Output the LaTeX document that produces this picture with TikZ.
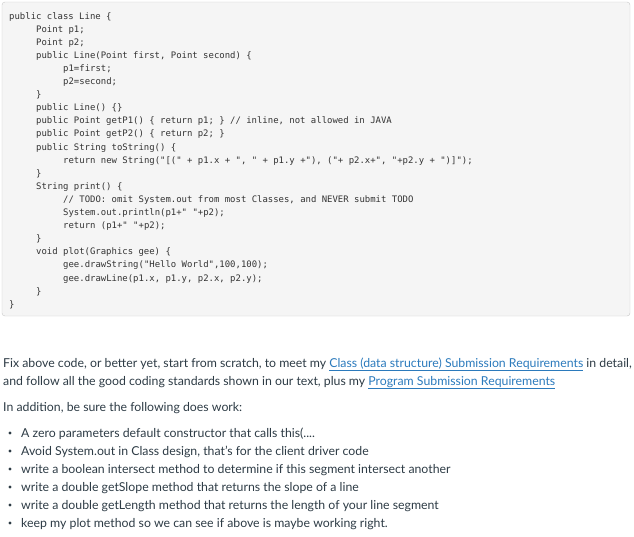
\documentclass[tikz,border=0pt]{standalone}
\usepackage{fontspec}
\setmainfont{Lato}
\setmonofont{DejaVu Sans Mono}
\definecolor{boxbg}{HTML}{F5F5F5}
\definecolor{boxline}{HTML}{C8C8C8}
\definecolor{codec}{HTML}{333333}
\definecolor{txt}{HTML}{2D3B45}
\definecolor{lnk}{HTML}{2B7ABC}
\newcommand{\lk}[1]{\textcolor{lnk}{\underline{#1}}}
\begin{document}
\begin{tikzpicture}[x=1pt,y=-1pt,
  code/.style={anchor=base west,inner sep=0pt,font=\ttfamily\fontsize{8.95}{10}\selectfont,text=codec},
  para/.style={anchor=base west,inner sep=0pt,font=\fontsize{12.3}{14}\selectfont,text=txt},
  bul/.style={circle,fill=txt,inner sep=0pt,minimum size=3.2pt}]
\useasboundingbox (0,0) rectangle (634,536);
\draw[boxline,fill=boxbg,rounded corners=3pt] (2,2) rectangle (630,316);
\foreach \i/\x/\t in {
 1/9/{public class Line \{},
 2/36/{Point p1;},
 3/36/{Point p2;},
 4/36/{public Line(Point first, Point second) \{},
 5/63/{p1=first;},
 6/63/{p2=second;},
 7/36/{\}},
 8/36/{public Line() \{\}},
 9/36/{public Point getP1() \{ return p1; \} // inline, not allowed in JAVA},
 10/36/{public Point getP2() \{ return p2; \}},
 11/36/{public String toString() \{},
 12/63/{return new String("[(" + p1.x + ", " + p1.y +"), ("+ p2.x+", "+p2.y + ")]");},
 13/36/{\}},
 14/36/{String print() \{},
 15/63/{// TODO: omit System.out from most Classes, and NEVER submit TODO},
 16/63/{System.out.println(p1+" "+p2);},
 17/63/{return (p1+" "+p2);},
 18/36/{\}},
 19/36/{void plot(Graphics gee) \{},
 20/63/{gee.drawString("Hello World",100,100);},
 21/63/{gee.drawLine(p1.x, p1.y, p2.x, p2.y);},
 22/36/{\}},
 23/9/{\}}}
  \node[code] (c\i) at (\x,{19+(\i-1)*13.1}) {\t};
\node[para] (p1) at (3,367) {Fix above code, or better yet, start from scratch, to meet my \lk{Class (data structure) Submission Requirements} in detail,};
\node[para] (p2) at (3,385) {and follow all the good coding standards shown in our text, plus my \lk{Program Submission Requirements}};
\node[para] (p3) at (3,411) {In addition, be sure the following does work:};
\foreach \i/\t in {
 1/{A zero parameters default constructor that calls this(....},
 2/{Avoid System.out in Class design, that's for the client driver code},
 3/{write a boolean intersect method to determine if this segment intersect another},
 4/{write a double getSlope method that returns the slope of a line},
 5/{write a double getLength method that returns the length of your line segment},
 6/{keep my plot method so we can see if above is maybe working right.}} {
  \node[para] (b\i) at (21,{437+(\i-1)*18}) {\t};
  \node[bul] (d\i) at (10,{433+(\i-1)*18}) {};
}
\end{tikzpicture}
\end{document}
